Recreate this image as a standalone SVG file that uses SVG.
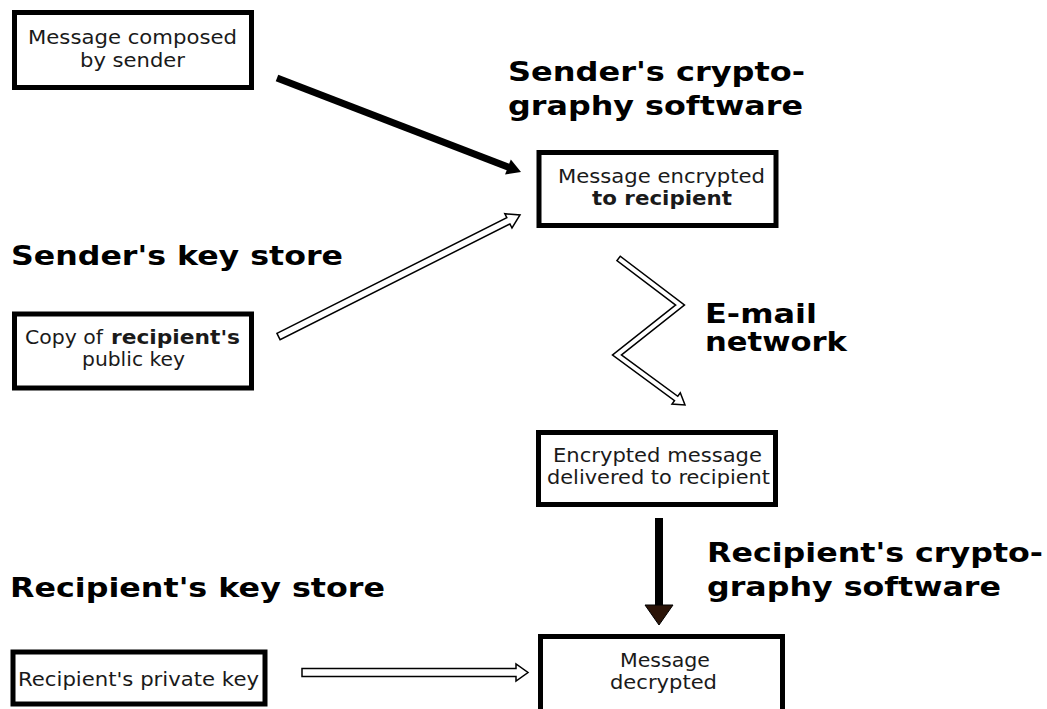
<svg xmlns="http://www.w3.org/2000/svg" width="1047" height="709" viewBox="0 0 1047 709">
<style>
.box{fill:#fff;stroke:#000;stroke-width:5}
.t{font-family:"DejaVu Sans",sans-serif;font-size:19.5px;fill:#1a1a1a}
.s{font-size:19px}
.b{font-weight:bold}
.h{font-family:"DejaVu Sans",sans-serif;font-size:27px;font-weight:bold;fill:#000}
.hol{fill:#fff;stroke:#000;stroke-width:1.5;stroke-linejoin:miter}
</style>
<rect width="1047" height="709" fill="#fff"/>
<g id="connectors">
<line x1="277" y1="78" x2="509.8" y2="167.7" stroke="#000" stroke-width="7"/>
<polygon points="521,172 505.06,174.43 510.82,159.51" fill="#000"/>
<polygon class="hol" points="276.93,333.37 506.82,217.71 504.79,213.69 520,215 511.99,227.99 509.96,223.97 280.07,339.63"/>
<path d="M618,258 L680,305 L617,355 L676.14,398.48" fill="none" stroke="#000" stroke-width="7" stroke-linejoin="miter"/>
<polygon class="hol" points="680.29,392.84 685,405 671.99,404.12"/>
<path d="M619.2,258.9 L680,305 L617,355 L677.4,399.4" fill="none" stroke="#fff" stroke-width="4" stroke-linejoin="miter"/>
<line x1="659" y1="518" x2="659" y2="607" stroke="#000" stroke-width="8"/>
<polygon points="645,605 673,605 659,625" fill="#2b1408" stroke="#000" stroke-width="1"/>
<polygon class="hol" points="302,668.5 516,668.5 516,664 528,672.5 516,681 516,676.5 302,676.5"/>
</g>
<g id="composed">
<rect class="box" x="14.5" y="12.5" width="237" height="75"/>
<text class="t" x="28" y="44" textLength="209" lengthAdjust="spacingAndGlyphs">Message composed</text>
<text class="t" x="80" y="67" textLength="105" lengthAdjust="spacingAndGlyphs">by sender</text>
</g>
<g id="encrypted">
<rect class="box" x="539" y="152.5" width="237" height="73"/>
<text class="t" x="558" y="183" textLength="207" lengthAdjust="spacingAndGlyphs">Message encrypted</text>
<text class="t b" x="592" y="205" textLength="140" lengthAdjust="spacingAndGlyphs">to recipient</text>
</g>
<g id="publickey">
<rect class="box" x="14.5" y="314" width="237" height="74"/>
<text class="t" x="25" y="344" textLength="78" lengthAdjust="spacingAndGlyphs">Copy of</text>
<text class="t b" x="111" y="344" textLength="129" lengthAdjust="spacingAndGlyphs">recipient's</text>
<text class="t" x="82" y="366" textLength="103" lengthAdjust="spacingAndGlyphs">public key</text>
</g>
<g id="delivered">
<rect class="box" x="538.5" y="432.5" width="237" height="72"/>
<text class="t s" x="553" y="462" textLength="209" lengthAdjust="spacingAndGlyphs">Encrypted message</text>
<text class="t s" x="547" y="484" textLength="223" lengthAdjust="spacingAndGlyphs">delivered to recipient</text>
</g>
<g id="privatekey">
<rect class="box" x="13" y="652" width="252" height="52"/>
<text class="t" x="18" y="686" textLength="241" lengthAdjust="spacingAndGlyphs">Recipient's private key</text>
</g>
<g id="decrypted">
<rect class="box" x="540.5" y="636.5" width="242" height="100"/>
<text class="t" x="620" y="667" textLength="90" lengthAdjust="spacingAndGlyphs">Message</text>
<text class="t" x="610" y="689" textLength="107" lengthAdjust="spacingAndGlyphs">decrypted</text>
</g>
<g id="labels">
<text class="h" x="508" y="81" textLength="297" lengthAdjust="spacingAndGlyphs">Sender's crypto-</text>
<text class="h" x="508" y="115" textLength="295" lengthAdjust="spacingAndGlyphs">graphy software</text>
<text class="h" x="11" y="265" textLength="332" lengthAdjust="spacingAndGlyphs">Sender's key store</text>
<text class="h" x="705" y="323" textLength="112" lengthAdjust="spacingAndGlyphs">E-mail</text>
<text class="h" x="705" y="351" textLength="142" lengthAdjust="spacingAndGlyphs">network</text>
<text class="h" x="707" y="562" textLength="336" lengthAdjust="spacingAndGlyphs">Recipient's crypto-</text>
<text class="h" x="707" y="596" textLength="294" lengthAdjust="spacingAndGlyphs">graphy software</text>
<text class="h" x="10" y="597" textLength="375" lengthAdjust="spacingAndGlyphs">Recipient's key store</text>
</g>
</svg>
